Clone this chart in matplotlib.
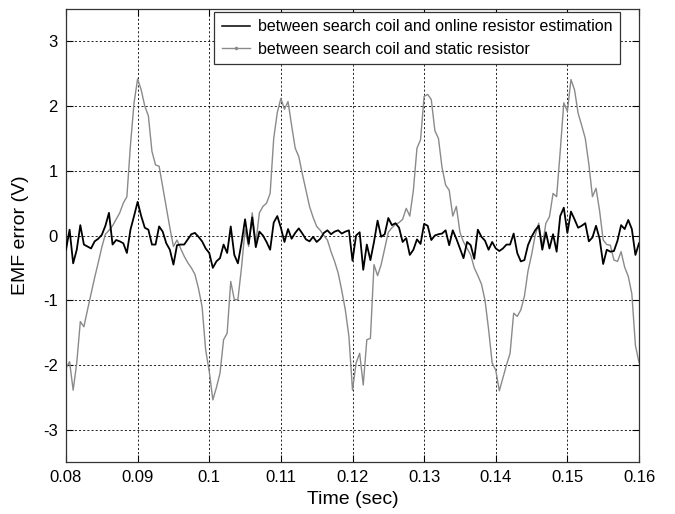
import numpy as np
import matplotlib
matplotlib.use("Agg")
import matplotlib.pyplot as plt
from matplotlib.lines import Line2D

t_start = 0.08
dt = 0.0005

# EMF error between search coil and static resistor (gray)
static_err = [
    -2.05, -1.95, -2.39, -1.97, -1.33, -1.41, -1.15, -0.90, -0.65, -0.42,
    -0.18, 0.02, 0.08, 0.15, 0.25, 0.35, 0.50, 0.60, 1.40, 2.05,
    2.42, 2.25, 2.00, 1.85, 1.30, 1.09, 1.07, 0.75, 0.42, 0.12,
    -0.17, -0.07, -0.20, -0.32, -0.42, -0.50, -0.60, -0.82, -1.10, -1.77,
    -2.10, -2.54, -2.35, -2.13, -1.61, -1.51, -0.71, -0.99, -0.99, -0.50,
    0.09, -0.17, 0.35, -0.12, 0.35, 0.45, 0.50, 0.65, 1.50, 1.90,
    2.12, 1.95, 2.07, 1.70, 1.35, 1.22, 0.95, 0.70, 0.45, 0.28,
    0.14, 0.08, 0.00, -0.07, -0.25, -0.40, -0.58, -0.85, -1.15, -1.56,
    -2.39, -1.97, -1.82, -2.31, -1.61, -1.59, -0.45, -0.62, -0.45, -0.20,
    0.05, 0.12, 0.17, 0.20, 0.25, 0.42, 0.30, 0.70, 1.35, 1.48,
    2.15, 2.18, 2.10, 1.62, 1.50, 1.05, 0.78, 0.70, 0.30, 0.45,
    0.05, -0.10, -0.20, -0.30, -0.50, -0.62, -0.75, -1.00, -1.45, -1.97,
    -2.08, -2.40, -2.20, -2.00, -1.82, -1.20, -1.25, -1.15, -0.94, -0.55,
    -0.30, 0.00, 0.19, -0.17, 0.19, 0.29, 0.65, 0.60, 1.30, 2.05,
    1.92, 2.41, 2.25, 1.89, 1.70, 1.50, 1.10, 0.60, 0.73, 0.38,
    -0.07, -0.14, -0.15, -0.38, -0.40, -0.25, -0.49, -0.63, -0.90, -1.70,
    -1.96,
]

# EMF error between search coil and online resistor estimation (black)
online_err = [
    -0.22, 0.09, -0.43, -0.22, 0.16, -0.14, -0.17, -0.20, -0.09, -0.05,
    0.01, 0.15, 0.35, -0.14, -0.07, -0.09, -0.12, -0.27, 0.09, 0.30,
    0.52, 0.30, 0.12, 0.09, -0.14, -0.14, 0.14, 0.06, -0.12, -0.22,
    -0.45, -0.15, -0.14, -0.14, -0.06, 0.02, 0.04, -0.02, -0.09, -0.20,
    -0.27, -0.50, -0.40, -0.35, -0.14, -0.27, 0.14, -0.30, -0.43, -0.12,
    0.25, -0.13, 0.28, -0.18, 0.06, 0.00, -0.10, -0.22, 0.20, 0.30,
    0.12, -0.10, 0.10, -0.05, 0.04, 0.11, 0.03, -0.06, -0.09, -0.02,
    -0.10, -0.05, 0.04, 0.08, 0.02, 0.06, 0.08, 0.03, 0.06, 0.08,
    -0.39, 0.00, 0.05, -0.53, -0.14, -0.38, -0.10, 0.23, -0.02, 0.02,
    0.27, 0.16, 0.19, 0.12, -0.10, -0.04, -0.30, -0.22, -0.06, -0.13,
    0.18, 0.15, -0.07, 0.00, 0.02, 0.03, 0.08, -0.15, 0.08, -0.05,
    -0.20, -0.35, -0.10, -0.15, -0.36, 0.09, -0.02, -0.08, -0.22, -0.10,
    -0.20, -0.24, -0.20, -0.14, -0.14, 0.03, -0.27, -0.40, -0.38, -0.15,
    -0.02, 0.08, 0.15, -0.22, 0.05, -0.20, 0.02, -0.25, 0.30, 0.43,
    0.04, 0.37, 0.25, 0.12, 0.15, 0.19, -0.09, -0.03, 0.15, -0.05,
    -0.44, -0.22, -0.25, -0.24, -0.08, 0.16, 0.10, 0.24, 0.10, -0.30,
    -0.12,
]

x_ticks = [0.08, 0.09, 0.1, 0.11, 0.12, 0.13, 0.14, 0.15, 0.16]
x_ticklabels = ["0.08", "0.09", "0.1", "0.11", "0.12", "0.13", "0.14", "0.15", "0.16"]
y_ticks = [-3, -2, -1, 0, 1, 2, 3]
y_ticklabels = ["-3", "-2", "-1", "0", "1", "2", "3"]

label_online = "between search coil and online resistor estimation"
label_static = "between search coil and static resistor"

plt.rcParams["font.family"] = ["Liberation Sans", "DejaVu Sans"]

t_online = t_start + dt * np.arange(len(online_err))
t_static = t_start + dt * np.arange(len(static_err))

gray = "#8a8a8a"

fig = plt.figure(figsize=(6.75, 5.14), dpi=100)
ax = fig.add_axes([66 / 675, 52 / 514, 573 / 675, 453 / 514])

ax.plot(t_online, online_err, color="black", lw=1.3, zorder=3)
ax.plot(t_static, static_err, color=gray, lw=1.0, zorder=2)

ax.set_xlim(0.08, 0.16)
ax.set_ylim(-3.5, 3.5)
ax.set_xticks(x_ticks)
ax.set_xticklabels(x_ticklabels)
ax.set_yticks(y_ticks)
ax.set_yticklabels(y_ticklabels)
ax.tick_params(direction="in", top=True, right=True, labelsize=12, length=5, width=0.8, pad=6)
ax.grid(True, color="black", linestyle=(0, (2.5, 2.5)), linewidth=0.6)
for s in ax.spines.values():
    s.set_linewidth(0.9)
    s.set_color("#333333")

ax.set_xlabel("Time (sec)", fontsize=14, labelpad=4)
ax.set_ylabel("EMF error (V)", fontsize=14, labelpad=10)

handles = [
    Line2D([], [], color="black", lw=1.1),
    Line2D([], [], color=gray, lw=1.0, marker=".", markersize=3),
]
leg = ax.legend(handles, [label_online, label_static], loc="upper right",
                bbox_to_anchor=(0.967, 0.993), borderaxespad=0, numpoints=1,
                fontsize=11.5, fancybox=False, framealpha=1, edgecolor="#333333",
                handlelength=1.8, handletextpad=0.5, borderpad=0.45, labelspacing=0.45)
leg.get_frame().set_linewidth(0.9)

fig.savefig("out.png", dpi=100)
